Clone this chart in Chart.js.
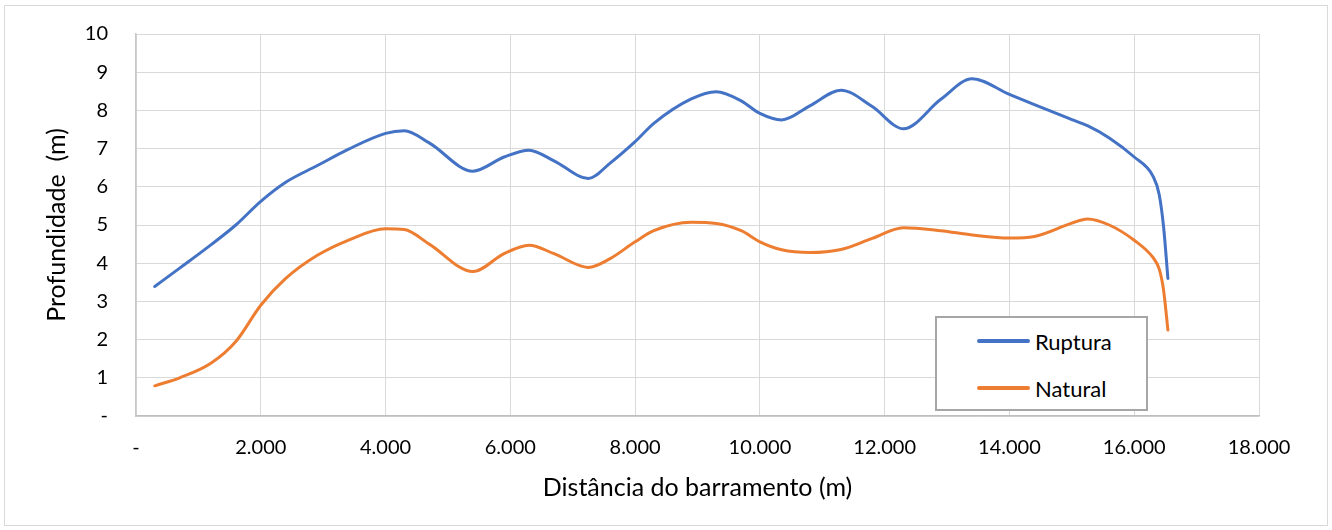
<!DOCTYPE html>
<html lang="pt">
<head>
<meta charset="utf-8">
<title>Profundidade x Distância</title>
<script src="https://cdn.jsdelivr.net/npm/chart.js@4.4.1/dist/chart.umd.min.js"></script>
<style>
    html, body { margin: 0; padding: 0; background: #fff; }
    #wrap { position: relative; width: 1332px; height: 530px; }
    #legend {
        position: absolute; left: 935px; top: 316px; width: 209px; height: 91px;
        border: 2px solid #a6a6a6; background: #fff; box-sizing: content-box;
        font-family: Lato, "Open Sans", sans-serif; font-size: 22px; color: #000;
    }
    #legend .item { position: absolute; left: 40px; height: 26px; display: flex; align-items: center; }
    #legend .line { width: 53px; height: 4px; border-radius: 2px; margin-right: 5px; }
</style>
</head>
<body>
<div id="wrap">
    <canvas id="depthChart"></canvas>
    <div id="legend"></div>
</div>
<script>
// Distância do barramento (m)
const distancias = [300, 700, 1200, 1600, 2000, 2400, 2900, 3400, 4000, 4300, 4700, 5400, 5900, 6300, 6700,
    7250, 7600, 8000, 8300, 8900, 9300, 9700, 10000, 10350, 10800, 11300, 11800, 12300, 12900, 13400,
    14000, 14400, 15000, 15250, 15600, 16000, 16300, 16400, 16470, 16540];

// Profundidade (m)
const ruptura = [3.39, 3.87, 4.48, 5.0, 5.62, 6.12, 6.55, 6.98, 7.40, 7.47, 7.15, 6.41, 6.78, 6.96, 6.68,
    6.22, 6.62, 7.18, 7.66, 8.30, 8.49, 8.25, 7.92, 7.75, 8.12, 8.53, 8.10, 7.52, 8.29, 8.83,
    8.42, 8.15, 7.76, 7.60, 7.28, 6.78, 6.28, 5.8, 4.96, 3.60];
const natural = [0.79, 1.0, 1.38, 1.95, 2.9, 3.6, 4.2, 4.6, 4.9, 4.88, 4.5, 3.78, 4.25, 4.47, 4.25,
    3.89, 4.12, 4.56, 4.85, 5.07, 5.04, 4.85, 4.56, 4.35, 4.28, 4.36, 4.65, 4.93, 4.85, 4.74,
    4.66, 4.70, 5.05, 5.16, 5.0, 4.6, 4.15, 3.85, 3.3, 2.25];

const series = ['Ruptura', 'Natural'];
const cores = ['#4472C4', '#ED7D31'];

const fonte = 'Lato, "Open Sans", sans-serif';

function pontos(valores) {
    return distancias.map((d, i) => ({ x: d, y: valores[i] }));
}

// formato 2.000 e "-" para zero
function formatar(v) {
    if (v === 0) return '-';
    return v.toString().replace(/\B(?=(\d{3})+(?!\d))/g, '.');
}

// moldura e fundo
const moldura = {
    id: 'moldura',
    beforeDraw(chart) {
        const ctx = chart.ctx;
        ctx.save();
        ctx.fillStyle = '#fff';
        ctx.fillRect(0, 0, chart.width, chart.height);
        ctx.strokeStyle = '#d9d9d9';
        ctx.lineWidth = 1;
        ctx.strokeRect(4.5, 5.5, 1323, 520);
        ctx.restore();
    }
};

const chart = new Chart(document.getElementById('depthChart'), {
    type: 'line',
    data: {
        datasets: [
            { label: series[0], data: pontos(ruptura), borderColor: cores[0], backgroundColor: cores[0] },
            { label: series[1], data: pontos(natural), borderColor: cores[1], backgroundColor: cores[1] }
        ]
    },
    options: {
        responsive: true,
        maintainAspectRatio: false,
        animation: false,
        layout: { padding: { left: 0, right: 73, top: 34, bottom: 0 } },
        elements: {
            point: { radius: 0 },
            line: { borderWidth: 3, cubicInterpolationMode: 'monotone', borderCapStyle: 'round' }
        },
        plugins: {
            legend: { display: false },
            tooltip: { enabled: false }
        },
        scales: {
            x: {
                type: 'linear',
                min: 0,
                max: 18000,
                afterFit: s => { s.height = 114; s.paddingLeft = 0; s.paddingRight = 0; },
                grid: { color: '#d9d9d9', drawTicks: false },
                border: { color: '#bfbfbf', width: 1.5 },
                ticks: {
                    stepSize: 2000,
                    padding: 20,
                    color: '#000',
                    font: { family: fonte, size: 20 },
                    callback: v => formatar(v)
                },
                title: {
                    display: true,
                    text: 'Distância do barramento (m)',
                    color: '#000',
                    font: { family: fonte, size: 25 },
                    padding: { top: 0, bottom: 27 }
                }
            },
            y: {
                min: 0,
                max: 10,
                afterFit: s => { s.width = 136; s.paddingTop = 0; s.paddingBottom = 0; },
                grid: { color: '#d9d9d9', drawTicks: false },
                border: { color: '#c8c8c8', width: 1.5 },
                ticks: {
                    stepSize: 1,
                    padding: 28,
                    color: '#000',
                    font: { family: fonte, size: 20 },
                    callback: v => formatar(v)
                },
                title: {
                    display: true,
                    text: 'Profundidade  (m)',
                    color: '#000',
                    font: { family: fonte, size: 25 },
                    padding: { top: 42, bottom: 0 }
                }
            }
        }
    },
    plugins: [moldura]
});

// legenda em caixa
const legenda = document.getElementById('legend');
chart.data.datasets.forEach((ds, i) => {
    const item = document.createElement('div');
    item.className = 'item';
    item.style.top = (i === 0 ? 10 : 57) + 'px';
    item.innerHTML = `<span class="line" style="background:${ds.borderColor}"></span><span>${ds.label}</span>`;
    legenda.appendChild(item);
});
</script>
</body>
</html>
